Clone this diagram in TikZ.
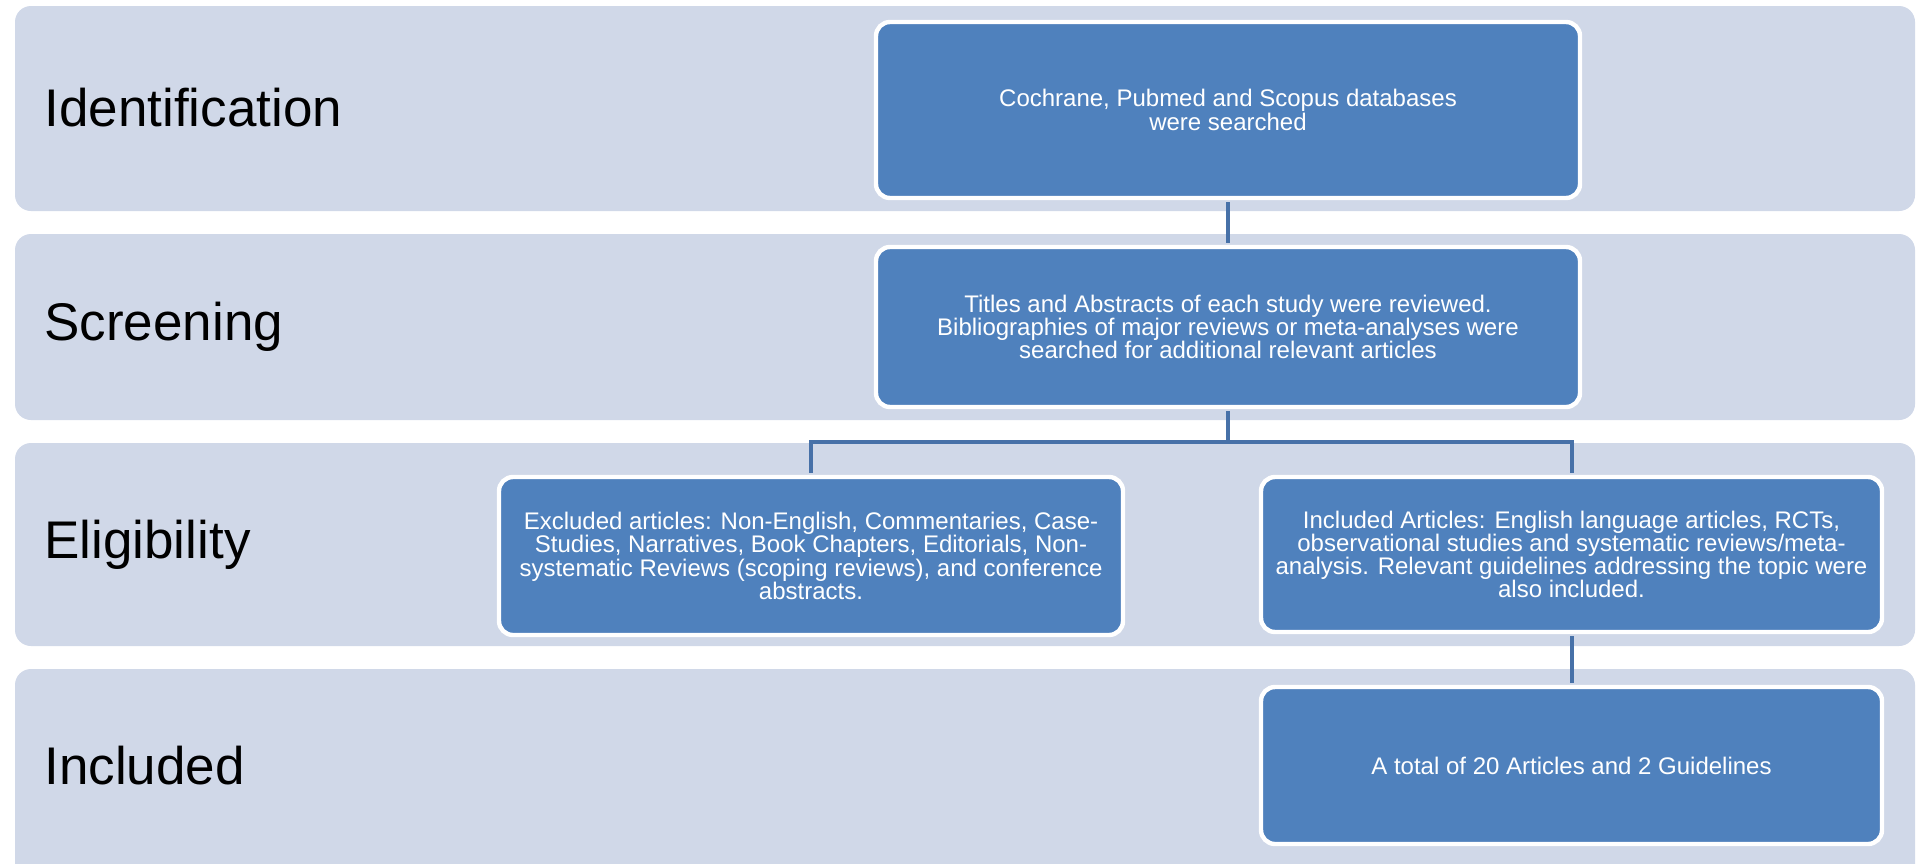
\documentclass[tikz,border=0pt]{standalone}
\usepackage{fontspec}
\setmainfont{Liberation Sans}
\definecolor{bandcol}{HTML}{D0D8E8}
\definecolor{boxcol}{HTML}{4F81BD}
\definecolor{linecol}{HTML}{4771A8}
\begin{document}
\begin{tikzpicture}[x=0.5pt,y=-0.5pt,
  band/.style={fill=bandcol,rounded corners=8pt},
  lbl/.style={anchor=west,inner sep=0pt,font=\fontsize{26.5}{30}\selectfont},
  fbox/.style={draw=white,line width=2.2pt,fill=boxcol,rounded corners=7pt,align=center,text=white,
    font=\fontsize{12}{11.6}\selectfont,inner sep=0pt},
  conn/.style={draw=linecol,line width=2pt}]
\useasboundingbox (0,0) rectangle (1921,863);
\fill[white] (0,0) rectangle (1921,863);
% bands
\path[band] (15,6) rectangle (1915,211);
\path[band] (15,234) rectangle (1915,420);
\path[band] (15,443) rectangle (1915,646);
\path[band] (15,669) rectangle (1915,900);
% labels
\node[lbl] (l1) at (44,108) {Identification};
\node[lbl] (l2) at (44,327) {Screening};
\node[lbl] (l3) at (44,545) {Eligibility};
\node[lbl] (l4) at (44,766) {Included};
% boxes
\node[fbox,minimum width=352pt,minimum height=88pt] (b1) at (1228,110)
  {Cochrane, Pubmed and Scopus databases\\were searched};
\node[fbox,minimum width=352pt,minimum height=80pt] (b2) at (1228,327)
  {Titles and Abstracts of each study were reviewed.\\Bibliographies of major reviews or meta-analyses were\\searched for additional relevant articles};
\node[fbox,minimum width=312pt,minimum height=79pt] (ex) at (811,556)
  {Excluded articles: Non-English, Commentaries, Case-\\Studies, Narratives, Book Chapters, Editorials, Non-\\systematic Reviews (scoping reviews), and conference\\abstracts.};
\node[fbox,minimum width=310.5pt,minimum height=77.5pt] (in) at (1571.5,554.5)
  {Included Articles: English language articles, RCTs,\\observational studies and systematic reviews/meta-\\analysis. Relevant guidelines addressing the topic were\\also included.};
\node[fbox,minimum width=310.5pt,minimum height=78.5pt] (tot) at (1571.5,765.5)
  {A total of 20 Articles and 2 Guidelines};
% connectors
\coordinate (split) at (1228,442);
\path[conn] ([yshift=-1pt]b1.south) -- ([yshift=1pt]b2.north);
\path[conn] ([yshift=-1pt]b2.south) -- (split);
\path[conn] ([yshift=1pt]ex.north) |- (split) -| ([yshift=1pt]in.north);
\path[conn] ([yshift=-1pt]in.south) -- ([yshift=1pt]tot.north);
\end{tikzpicture}
\end{document}
